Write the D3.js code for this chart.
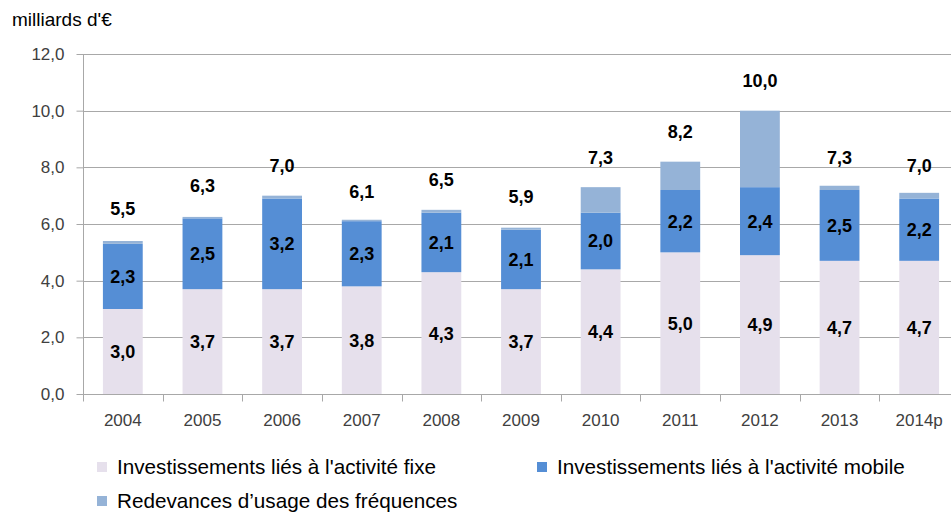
<!DOCTYPE html>
<html>
<head>
<meta charset="utf-8">
<script src="https://cdn.jsdelivr.net/npm/d3@7"></script>
<style>
  body { margin: 0; background: #fff; }
  svg { display: block; }
  .tick-y, .tick-x { font-family: "Liberation Sans", Arial, sans-serif; font-size: 17px; fill: #404040; }
  .val { font-family: "Liberation Sans", Arial, sans-serif; font-size: 18px; font-weight: bold; fill: #000; }
  .leg, .unit { font-family: "Liberation Sans", sans-serif; fill: #000; }
</style>
</head>
<body>
<svg id="chart"></svg>
<script>
var width = 951,
    height = 514;

// data
var years = ["2004", "2005", "2006", "2007", "2008", "2009", "2010", "2011", "2012", "2013", "2014p"];
var fixe = [3.0, 3.7, 3.7, 3.8, 4.3, 3.7, 4.4, 5.0, 4.9, 4.7, 4.7];
var mobile = [2.3, 2.5, 3.2, 2.3, 2.1, 2.1, 2.0, 2.2, 2.4, 2.5, 2.2];
var redevances = [0.1, 0.05, 0.1, 0.05, 0.1, 0.07, 0.9, 1.0, 2.7, 0.15, 0.2];
var totals = [5.5, 6.3, 7.0, 6.1, 6.5, 5.9, 7.3, 8.2, 10.0, 7.3, 7.0];
var yTicks = [0, 2, 4, 6, 8, 10, 12];
var seriesNames = ["Investissements liés à l'activité fixe", "Investissements liés à l'activité mobile", "Redevances d\u2019usage des fréquences"];
var colors = ["#e6e0ec", "#558ed5", "#95b3d7"];

var mLeft = 83, mRight = 959, mTop = 54, mBottom = 394;

var fmt = d => d3.format(".1f")(d).replace(".", ",");

var svg = d3.select("#chart").attr("width", width).attr("height", height);

var x = d3.scaleBand().domain(years).range([mLeft, mRight]).paddingInner(0.5).paddingOuter(0.25);
var y = d3.scaleLinear().domain([0, 12]).range([mBottom, mTop]);

var rows = years.map((yr, i) => ({year: yr, fixe: fixe[i], mobile: mobile[i], red: redevances[i], total: totals[i]}));
var stack = d3.stack().keys(["fixe", "mobile", "red"])(rows);

// gridlines
svg.append("g").selectAll("line").data(yTicks.slice(1)).enter().append("line")
    .attr("x1", mLeft).attr("x2", width)
    .attr("y1", d => Math.round(y(d)) + 0.5).attr("y2", d => Math.round(y(d)) + 0.5)
    .attr("stroke", "#a8a8a8").attr("stroke-width", 1);

// y axis
var yAxis = d3.axisLeft(y).tickValues(yTicks).tickFormat(fmt).tickSize(7).tickPadding(12);
var gy = svg.append("g").attr("transform", "translate(" + (mLeft + 0.5) + ",0)").call(yAxis);
gy.select(".domain").attr("stroke", "#a8a8a8").attr("d", "M0," + mBottom + "V" + mTop);
gy.selectAll(".tick line").attr("stroke", "#a8a8a8");
gy.selectAll(".tick text").attr("class", "tick-y").attr("font-family", null).attr("font-size", null);

// bars
svg.append("g").selectAll("g").data(stack).enter().append("g")
    .attr("fill", (d, i) => colors[i])
    .selectAll("rect").data(d => d).enter().append("rect")
    .attr("x", d => x(d.data.year))
    .attr("width", x.bandwidth())
    .attr("y", d => y(d[1]))
    .attr("height", d => y(d[0]) - y(d[1]));

// x axis with ticks at category boundaries
var gx = svg.append("g").attr("transform", "translate(0," + (mBottom + 0.5) + ")");
gx.append("line").attr("x1", mLeft).attr("x2", width).attr("stroke", "#a8a8a8");
var step = x.step();
gx.selectAll(".bt").data(years).enter().append("line")
    .attr("x1", d => Math.round(x(d) - step * 0.25) + 0.5)
    .attr("x2", d => Math.round(x(d) - step * 0.25) + 0.5)
    .attr("y1", 0).attr("y2", 7).attr("stroke", "#a8a8a8");
gx.selectAll("text").data(years).enter().append("text")
    .attr("class", "tick-x")
    .attr("x", d => x(d) + x.bandwidth() / 2)
    .attr("y", 31)
    .attr("text-anchor", "middle")
    .text(d => d);

// segment labels
var lab = svg.append("g").attr("class", "val").attr("text-anchor", "middle");
rows.forEach(r => {
    var cx = x(r.year) + x.bandwidth() / 2;
    lab.append("text").attr("x", cx).attr("y", (y(0) + y(r.fixe)) / 2).attr("dy", "0.36em").text(fmt(r.fixe));
    lab.append("text").attr("x", cx).attr("y", (y(r.fixe) + y(r.fixe + r.mobile)) / 2).attr("dy", "0.36em").text(fmt(r.mobile));
    lab.append("text").attr("x", cx).attr("y", y(r.total) - 30).attr("dy", "0.36em").text(fmt(r.total));
});

// unit label
svg.append("text").attr("class", "unit").attr("x", 12).attr("y", 26).attr("font-size", 19).text("milliards d'\u20ac");

// legend
var legPos = [[97, 467], [537, 467], [97, 501]];
var leg = svg.append("g").selectAll("g").data(seriesNames).enter().append("g")
    .attr("transform", (d, i) => "translate(" + legPos[i][0] + "," + legPos[i][1] + ")");
leg.append("rect").attr("x", 0).attr("y", -5).attr("width", 10).attr("height", 10).attr("fill", (d, i) => colors[i]);
leg.append("text").attr("class", "leg").attr("x", 20).attr("dy", "0.36em").attr("font-size", 20.7).text(d => d);
</script>
</body>
</html>
